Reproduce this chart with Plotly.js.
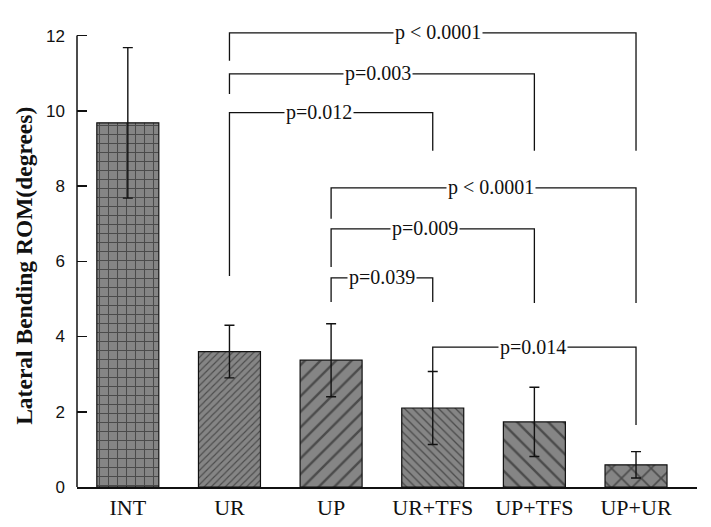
<!DOCTYPE html>
<html>
<head>
<meta charset="utf-8">
<script src="https://cdn.plot.ly/plotly-3.0.1.min.js"></script>
<style>
  html, body { margin: 0; padding: 0; background: #fff; }
  #chart { width: 711px; height: 527px; }
</style>
</head>
<body>
<div id="chart"></div>
<script>
// 측면 굴곡 ROM 막대 + 유의확률 브래킷
const groups = ['INT', 'UR', 'UP', 'UR+TFS', 'UP+TFS', 'UP+UR'];
const romMean = [9.68, 3.60, 3.37, 2.10, 1.73, 0.59];
const romSD = [2.0, 0.70, 0.97, 0.97, 0.92, 0.35];
const patternShapes = ['+', '/', '/', '\\', '\\', 'x'];
const patternSizes = [9, 5, 11, 6, 11, 14];

// 브래킷: from/to 그룹 인덱스, 가로선 높이, 양쪽 다리 끝 높이, p값
const bracketFrom = [1, 1, 1, 2, 2, 2, 3];
const bracketTo = [5, 4, 3, 5, 4, 3, 5];
const bracketTop = [12.07, 10.98, 9.95, 7.95, 6.86, 5.56, 3.72];
const legLeftEnd = [11.33, 10.45, 5.61, 7.13, 5.85, 4.92, 3.06];
const legRightEnd = [8.94, 8.94, 8.94, 4.89, 4.89, 4.92, 1.65];
const pLabels = ['p < 0.0001', 'p=0.003', 'p=0.012', 'p < 0.0001', 'p=0.009', 'p=0.039', 'p=0.014'];
const labelAt = [3.05, 2.46, 1.88, 3.57, 2.92, 2.5, 3.99];

const trace = {
    x: groups,
    y: romMean,
    type: 'bar',
    width: 0.61,
    marker: {
        color: '#858585',
        line: {color: '#111', width: 1.2},
        pattern: {
            shape: patternShapes,
            size: patternSizes,
            solidity: 0.22,
            fgcolor: '#111',
            bgcolor: '#858585',
            fillmode: 'overlay'
        }
    },
    error_y: {
        type: 'data',
        array: romSD,
        visible: true,
        color: '#111',
        thickness: 1.4,
        width: 5
    },
    hoverinfo: 'none'
};

const shapes = [];
const annotations = [];
bracketFrom.forEach((a, i) => {
    const b = bracketTo[i];
    shapes.push({
        type: 'path',
        xref: 'x', yref: 'y',
        path: `M ${a} ${legLeftEnd[i]} L ${a} ${bracketTop[i]} L ${b} ${bracketTop[i]} L ${b} ${legRightEnd[i]}`,
        line: {color: '#111', width: 1.3}
    });
    annotations.push({
        x: labelAt[i], y: bracketTop[i],
        xref: 'x', yref: 'y',
        text: pLabels[i],
        showarrow: false,
        bgcolor: '#fff',
        borderpad: 1,
        font: {family: 'Liberation Serif, Times New Roman, serif', size: 20, color: '#111'}
    });
});

// y축 제목 (0~12 구간 가운데)
annotations.push({
    x: 0, xref: 'paper', xshift: -53, xanchor: 'center',
    y: 5.88, yref: 'y', yanchor: 'middle',
    text: '<b>Lateral Bending ROM(degrees)</b>',
    textangle: -90,
    showarrow: false,
    font: {family: 'Liberation Serif, Times New Roman, serif', size: 23.5, color: '#111'}
});

// y축 선은 0~12까지만
shapes.push({
    type: 'line', xref: 'paper', yref: 'y',
    x0: 0, x1: 0, y0: 0, y1: 12,
    line: {color: '#111', width: 1.5}
});

const layout = {
    width: 711,
    height: 527,
    margin: {l: 77, r: 14, t: 13, b: 40},
    paper_bgcolor: '#fff',
    plot_bgcolor: '#fff',
    showlegend: false,
    xaxis: {
        type: 'category',
        range: [-0.5, 5.6],
        showline: true,
        linecolor: '#111',
        linewidth: 1.5,
        ticks: '',
        showgrid: false,
        zeroline: false,
        tickfont: {family: 'Liberation Serif, Times New Roman, serif', size: 22, color: '#111'}
    },
    yaxis: {
        range: [0, 12.6],
        tickvals: [0, 2, 4, 6, 8, 10, 12],
        showline: false,
        ticks: 'inside',
        ticklen: 10,
        tickwidth: 1.5,
        tickcolor: '#111',
        showgrid: false,
        zeroline: false,
        ticklabelstandoff: 11,
        tickfont: {family: 'Liberation Sans, Arial, sans-serif', size: 17, color: '#111'}
    },
    shapes: shapes,
    annotations: annotations
};

Plotly.newPlot('chart', [trace], layout, {displayModeBar: false, staticPlot: true});
</script>
</body>
</html>
